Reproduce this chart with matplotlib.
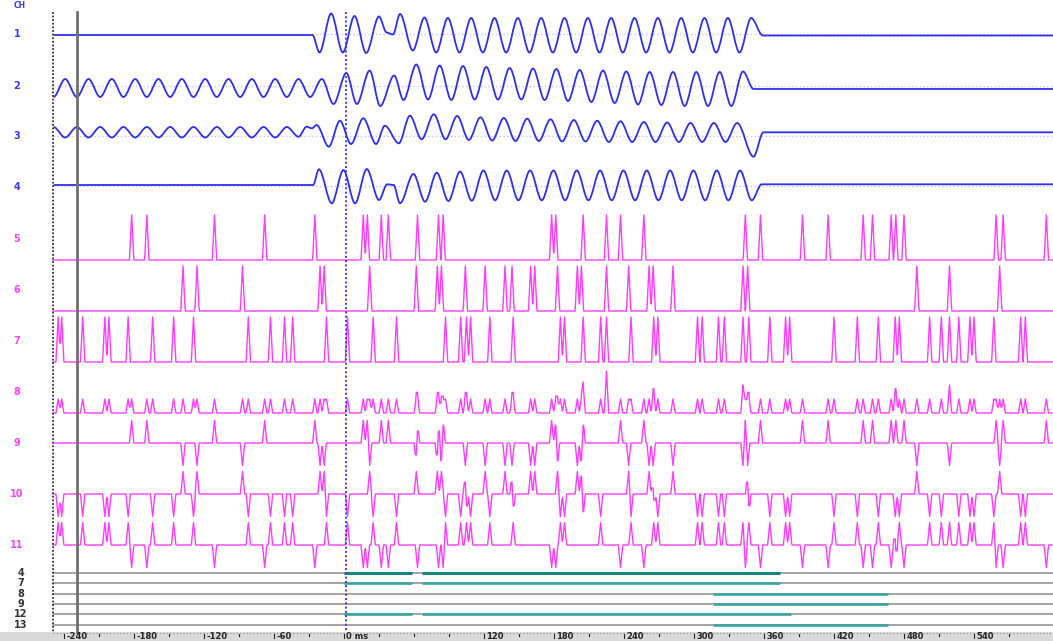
import numpy as np
import matplotlib
matplotlib.use("Agg")
import matplotlib.pyplot as plt
from matplotlib.path import Path
from matplotlib.patches import PathPatch, Rectangle

# ---------------- data ----------------
# analog channels: extrema (time in ms, amplitude, + = up)
ch1_t = [-249, -27, -21, -11, -1, 9, 19, 30, 36.5, 42, 48, 59, 69, 79, 89,
         99, 109, 119, 129, 139, 149, 159, 169, 179, 189, 199, 209, 219, 229,
         239, 249, 259, 269, 279, 289, 299, 309, 319, 329, 339, 349, 359, 608]
ch1_v = [-1, -1, -18.5, 20.5, -18.5, 18, -19, 17.5, 1.5, -0.5, 20, -16.5, 16.5, -18.5, 16,
         -18.5, 16, -18.5, 16, -18.5, 16, -18.5, 16, -18.5, 16, -18.5, 16, -18.5, 16,
         -18.5, 16, -18.5, 16, -18.5, 16, -18.5, 16, -18.5, 16, -18.5, 16, -1.5, -1.5]

ch2_t = [-249, -239, -229, -219, -209, -199, -189, -179, -169, -159, -149, -139,
         -129, -119, -109, -99, -89, -79, -69, -59, -49, -39, -29, -19,
         -9, 2, 11, 22, 31, 43, 51, 62, 72, 82, 92, 102, 112, 122, 132, 142,
         152, 162, 172, 182, 192, 202, 212, 222, 232, 242, 252, 262, 272, 282,
         292, 302, 312, 322, 332, 342, 351, 608]
ch2_v = [-11, 7, -11, 7, -11, 7, -11, 7, -11, 7, -11, 7,
         -11, 7, -11, 7, -11, 7, -11, 7, -11, 7, -11, 7,
         -18, 13, -18, 15.5, -20, 10.5, -14, 21.5, -13.5, 20.5, -14, 20, -13.5, 19, -13.5, 18,
         -13.5, 17.5, -14, 17, -15, 16, -16, 15.5, -17, 14.5, -18.5, 14, -19, 14,
         -20, 14, -20, 14, -20, 14.5, -3, -3]

ch3_t = [-249, -239, -229, -219, -209, -199, -189, -179, -169, -159, -149,
         -139, -129, -119, -109, -99, -89, -79, -69, -59, -49, -39,
         -32, -27.5, -23.5, -13, -3.5, 6, 16.5, 27.5, 35, 47, 56.5, 66.5, 77, 87,
         97, 107, 117, 127, 137, 147, 157, 167, 177, 187, 197, 207, 217, 227,
         237, 247, 257, 267, 277, 287, 297, 307, 317, 327, 337, 351, 359.5, 608]
ch3_v = [9, -1.5, 9, -1.5, 9, -1.5, 9, -1.5, 9, -1.5, 9,
         -1.5, 9, -1.5, 9, -1.5, 9, -1.5, 9, -1.5, 9, -0.7,
         9.3, 7.7, 11, -10.7, 15.3, -8, 17.7, -8, 10.3, -7.3, 20.3, -3.3, 21.7, -3.3,
         20, -4, 18.7, -4.5, 18, -5, 17.3, -5, 16.7, -5.5, 16, -5.5, 15.3, -6,
         14.7, -6, 14, -6, 13.5, -6, 13, -6, 13, -6, 13, -20.7, 3.7, 3.7]

ch4_t = [-249, -26.5, -21.5, -10.5, -0.5, 9.5, 19.5, 30, 37, 42.5, 48, 59.5, 69.5,
         79.5, 89.5, 99.5, 109.5, 119.5, 129.5, 139.5, 149.5, 159.5, 169.5, 179.5,
         189.5, 199.5, 209.5, 219.5, 229.5, 239.5, 249.5, 259.5, 269.5, 279.5,
         289.5, 299.5, 309.5, 319.5, 329.5, 339.5, 349.5, 358, 608]
ch4_v = [1, 1, 16.7, -17.3, 16, -17.3, 17, -14, 1.7, 1, -17.3, 12, -15.7,
         13.3, -15, 14.5, -14.7, 15.5, -14.3, 15.5, -14.3, 15.5, -14.3, 15.5,
         -14.3, 15.5, -14.3, 15.5, -14.3, 15.5, -14.3, 15.5, -14.3, 15.5,
         -14.3, 15.5, -14.3, 15.5, -14.3, 15.5, -14.3, 1.7, 1.7]

# spike trains (ms)
ch5_spikes = [-182, -169, -111, -68, -25, 16.5, 20, 32, 38, 63, 81, 85, 178, 181.5, 205,
              225, 237, 257, 344, 357, 393, 415, 445, 453, 469, 473, 480, 559, 565, 602]
ch6_spikes = [-138, -126, -87, -20.5, -17, 22, 62, 80, 83.5, 104, 121, 138, 144, 160, 163.5,
              183, 200, 203.5, 225, 244, 261.5, 265, 282, 342, 346, 491, 519, 562]
ch7_spikes = [-245, -242, -224, -205, -201.5, -185, -164, -146, -129, -82, -63, -51, -44,
              -15, 3, 25, 45, 87, 100, 105, 108.5, 125, 145, 185.5, 189, 205, 220, 225, 246,
              265.5, 269, 303, 307, 321, 326, 342, 347, 365, 378.5, 382, 420, 440, 458, 472.5,
              476, 502, 512, 519, 527, 536.5, 540, 557, 580, 584]

# digital event rows
dig_labels = ["4", "7", "8", "9", "12", "13"]
dig_on = [[(0, 58), (67, 374)],
          [(0, 58), (67, 374)],
          [(316, 466)],
          [(316, 466)],
          [(0, 58), (67, 383)],
          [(316, 466)]]

analog_labels = ["1", "2", "3", "4"]
spike_labels = ["5", "6", "7", "8", "9", "10", "11"]

tick_vals = [-240, -180, -120, -60, 0, 120, 180, 240, 300, 360, 420, 480, 540]
tick_texts = ["-240", "-180", "-120", "-60", "0 ms", "120", "180", "240", "300",
              "360", "420", "480", "540"]
minor_vals = [-210, -150, -90, -30, 30, 60, 90, 150, 210, 270, 330, 390, 450, 510, 570]

cursor_ms = -229
start_ms = -249.5
zero_ms = 2

# ---------------- layout / style ----------------
W, H = 1053, 641
X0 = 344.0          # pixel of t = 0
PXMS = 7.0 / 6.0    # pixels per ms
XMIN, XMAX = -X0 / PXMS, (W - X0) / PXMS

BLUE = "#2f2ff0"
BLUE_LBL = "#3a3aff"
MAG = "#ff3cff"
MAG_LBL = "#ff44ff"
TEAL_D = "#16857f"
TEAL_L = "#38a79f"

analog_base = [34, 86, 136, 186]
analog_lbl_y = [34, 86, 136, 187]
spike_base = [260, 311, 362, 413, 443, 494, 545]
spike_lbl_y = [239, 290, 341, 392, 443, 494, 545]
dig_y = [572.7, 583.3, 593.6, 604, 614.3, 625]

fig = plt.figure(figsize=(W / 100, H / 100), dpi=100)
ax = fig.add_axes([0, 0, 1, 1])
ax.set_xlim(XMIN, XMAX)
ax.set_ylim(H, 0)
ax.axis("off")


def wave_path(t, v, base):
    verts = [(t[0], base - v[0])]
    codes = [Path.MOVETO]
    for i in range(1, len(t)):
        t0, t1 = t[i - 1], t[i]
        y0, y1 = base - v[i - 1], base - v[i]
        d = (t1 - t0) / 3.0
        verts += [(t0 + d, y0), (t1 - d, y1), (t1, y1)]
        codes += [Path.CURVE4] * 3
    return Path(verts, codes)


# analog
for (t, v), b in zip([(ch1_t, ch1_v), (ch2_t, ch2_v), (ch3_t, ch3_v), (ch4_t, ch4_v)],
                     analog_base):
    ax.plot([start_ms, XMAX], [b, b], color="#b9bdff", lw=0.9, ls=(0, (1, 2)), zorder=1)
    ax.add_patch(PathPatch(wave_path(t, v, b), fill=False, edgecolor=BLUE, lw=1.3, zorder=3))

# spikes
tg = np.arange(start_ms, XMAX, 0.25)


def train(spikes, half=1.9):
    s = np.zeros_like(tg)
    for ts in spikes:
        s += np.clip(1 - np.abs(tg - ts) / half, 0, None)
    return s


s5, s6, s7 = train(ch5_spikes), train(ch6_spikes), train(ch7_spikes)
traces = [45 * s5, 45 * s6, 45 * s7, 14 * (s5 + s6 + s7),
          22.5 * (s5 - s6), 22.5 * (s6 - s7), 22.5 * (s7 - s5)]
for tr, b in zip(traces, spike_base):
    ax.plot(tg, b - tr, color=MAG, lw=1.0, zorder=3)

# digital rows
for lab, segs, y in zip(dig_labels, dig_on, dig_y):
    ax.plot([start_ms, XMAX], [y, y], color="#8c8c8c", lw=1.1, zorder=2)
    for a, b in segs:
        ax.plot([a, b], [y, y], color=TEAL_D if lab == "4" else TEAL_L,
                lw=2.2 if lab == "4" else 1.9, solid_capstyle="butt", zorder=3)
    fig.text(21 / W, 1 - y / H, lab, color="#333333", fontsize=7, fontweight="bold",
             ha="center", va="center")

# vertical markers
ax.plot([start_ms, start_ms], [12, 632], color="#333333", lw=1.3, ls=(0, (1, 1)), zorder=4)
ax.plot([cursor_ms, cursor_ms], [12, 632], color="#707070", lw=2.0, zorder=4)
ax.plot([zero_ms, zero_ms], [12, 632], color="#3c3cff", lw=1.4, ls=(0, (1, 1.2)), zorder=5)

# channel labels
for lab, y in zip(analog_labels, analog_lbl_y):
    fig.text(17 / W, 1 - y / H, lab, color=BLUE_LBL, fontsize=7, fontweight="bold",
             ha="center", va="center")
for lab, y in zip(spike_labels, spike_lbl_y):
    fig.text(17 / W, 1 - y / H, lab, color=MAG_LBL, fontsize=7, fontweight="bold",
             ha="center", va="center")
fig.text(20 / W, 1 - 0.5 / H, "CH", color=BLUE_LBL, fontsize=5.5, fontweight="bold",
         ha="center", va="top")

# bottom time axis band
ax.add_patch(Rectangle((XMIN, 632), XMAX - XMIN, 12, facecolor="#dadada",
                       edgecolor="none", zorder=2))
ax.plot([start_ms, XMAX], [632.5, 632.5], color="#8a8a8a", lw=0.8, ls=(0, (1, 2)), zorder=3)
for v, txt in zip(tick_vals, tick_texts):
    ax.plot([v, v], [634, 638], color="#222222", lw=0.8, zorder=4)
    ax.text(v + 2.0, 640.6, txt, color="#222222", fontsize=6, fontweight="bold",
            ha="left", va="bottom", zorder=4)
for v in minor_vals:
    ax.plot([v, v], [633.5, 635.5], color="#222222", lw=0.8, zorder=4)

fig.savefig("out.png", dpi=100)
